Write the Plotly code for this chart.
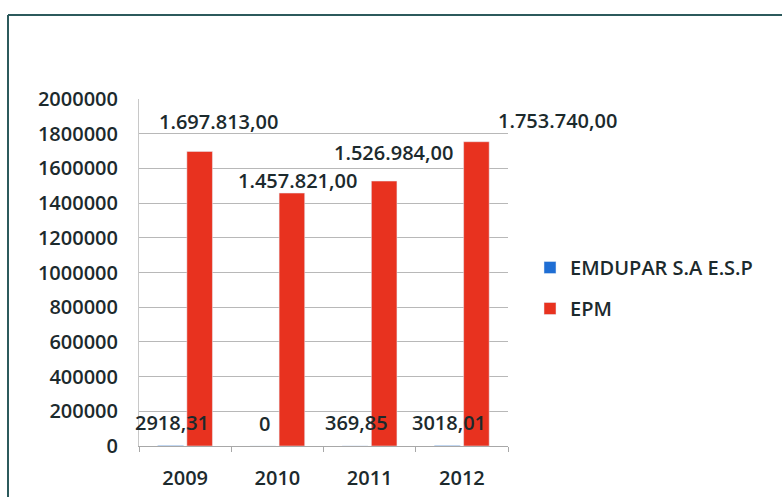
import plotly.graph_objects as go

# Data
years = ["2009", "2010", "2011", "2012"]
emdupar = [2918.31, 0, 369.85, 3018.01]
epm = [1697813.00, 1457821.00, 1526984.00, 1753740.00]
y_ticks = [0, 200000, 400000, 600000, 800000, 1000000, 1200000, 1400000,
           1600000, 1800000, 2000000]

# Label nudges (pixels) for the value labels
epm_label_shift_x = [33, 20, 24, 96]
epm_label_shift_y = [30, 13, 29, 21]
emdupar_label_shift_x = -13
emdupar_label_shift_y = 23

RED = "#E8321F"
BLUE = "#1F6ED4"
TEXT = "#1c2a2d"
FONT = "Open Sans"
FS = 20
WEIGHT = 600

W, H = 782, 497
ML, MR, MT, MB = 139, 274, 99, 51
PW, PH = W - ML - MR, H - MT - MB


def fmt_plain(v):
    # values shown without thousands grouping, comma as decimal mark
    if v == 0:
        return "0"
    return f"{v:.2f}".replace(".", ",")


def fmt_grouped(v):
    s = f"{v:,.2f}"
    return s.replace(",", "X").replace(".", ",").replace("X", ".")


def txt_font():
    return dict(family=FONT, size=FS, color=TEXT, weight=WEIGHT)


fig = go.Figure()
fig.add_trace(go.Bar(x=years, y=emdupar, name="EMDUPAR S.A E.S.P",
                     marker_color=BLUE, legendgroup="a"))
fig.add_trace(go.Bar(x=years, y=epm, name="EPM",
                     marker_color=RED, legendgroup="b"))

# value labels; x given as category index so numeric-looking names
# are not read as positions
annotations = []
for i in range(len(years)):
    annotations.append(dict(
        x=i, y=epm[i], text=fmt_grouped(epm[i]), showarrow=False,
        xshift=epm_label_shift_x[i], yshift=epm_label_shift_y[i],
        font=txt_font()))
    annotations.append(dict(
        x=i, y=emdupar[i], text=fmt_plain(emdupar[i]), showarrow=False,
        xshift=emdupar_label_shift_x, yshift=emdupar_label_shift_y,
        font=txt_font()))


def px_to_paper_x(px):
    return (px - ML) / PW


def px_to_paper_y(py):
    return (H - MB - py) / PH


border_color = "#2c5a5c"
shapes = [
    dict(type="line", xref="paper", yref="paper",
         x0=px_to_paper_x(8), x1=px_to_paper_x(W), y0=px_to_paper_y(15), y1=px_to_paper_y(15),
         line=dict(color=border_color, width=2)),
    dict(type="line", xref="paper", yref="paper",
         x0=px_to_paper_x(8), x1=px_to_paper_x(8), y0=px_to_paper_y(15), y1=px_to_paper_y(H),
         line=dict(color=border_color, width=2)),
]

fig.update_layout(
    width=W, height=H,
    margin=dict(l=ML, r=MR, t=MT, b=MB, autoexpand=False),
    paper_bgcolor="white", plot_bgcolor="white",
    barmode="group", bargap=0.37, bargroupgap=0.12,
    font=txt_font(),
    showlegend=True,
    legend=dict(x=px_to_paper_x(530), y=px_to_paper_y(248), xanchor="left", yanchor="top",
                font=txt_font(),
                tracegroupgap=12, traceorder="grouped",
                bgcolor="rgba(0,0,0,0)"),
    annotations=annotations,
    shapes=shapes,
)
fig.update_xaxes(type="category", categoryorder="array", categoryarray=years,
                 range=[-0.5, len(years) - 0.5],
                 showgrid=False, showline=True, linecolor="#a8a8a8",
                 linewidth=1, ticks="outside", tickson="boundaries", ticklen=5,
                 tickcolor="#a8a8a8", tickangle=0, automargin=False,
                 ticklabelstandoff=14,
                 tickfont=txt_font())
fig.update_yaxes(range=[0, 2000000], tickvals=y_ticks, tickformat="d",
                 showgrid=True, gridcolor="#b8b8b8", gridwidth=1,
                 showline=True, linecolor="#c8c8c8", zeroline=False,
                 ticks="", ticklabelstandoff=16, automargin=False,
                 tickfont=txt_font())

fig.write_html("out.html")
